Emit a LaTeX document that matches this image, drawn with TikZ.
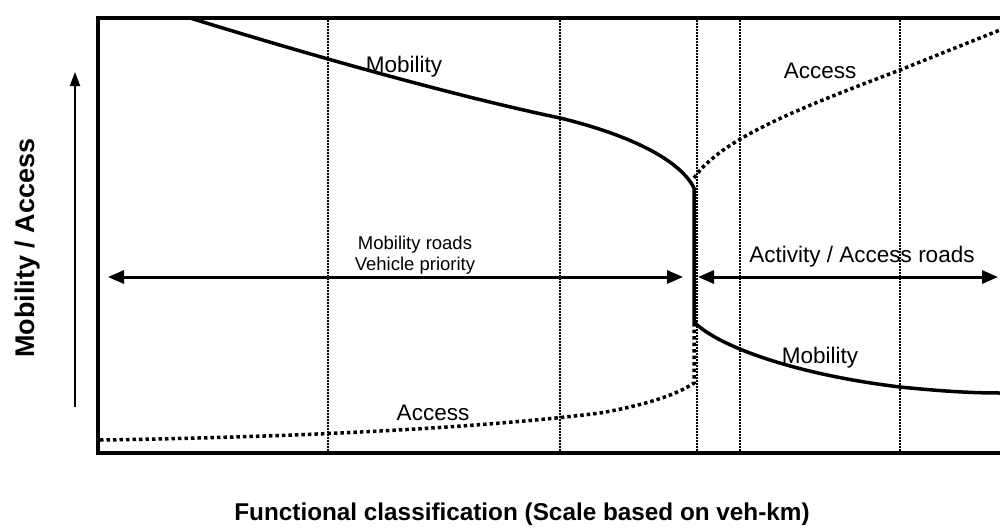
\documentclass[tikz,border=0pt]{standalone}
\usepackage{fontspec}
\setmainfont{Liberation Sans}
\usetikzlibrary{arrows.meta}

\tikzset{
  lbl/.style={font=\fontsize{22.5}{27}\selectfont},
  axislbl/.style={font=\bfseries\fontsize{24.3}{30}\selectfont},
  guide/.style={line width=1.2pt, dash pattern=on 1.5pt off 1.5pt},
  solidcurve/.style={line width=3.5pt, line join=round},
  dotcurve/.style={line width=3.5pt, dash pattern=on 3.5pt off 3pt},
  roadarrow/.style={line width=3pt, {Triangle[length=16pt,width=13pt]}-{Triangle[length=16pt,width=13pt]}},
}

\begin{document}
\begin{tikzpicture}[x=1pt,y=-1pt]
  \useasboundingbox (0,0) rectangle (1000,530);
  % Class boundaries
  \foreach \x in {328,560,697,740,900}{
    \coordinate (g\x t) at (\x,20);
    \coordinate (g\x b) at (\x,451);
    \draw[guide] (g\x t) -- (g\x b);
  }
  % Frame
  \coordinate (tr) at (1000,18);
  \coordinate (tl) at (98,18);
  \coordinate (bl) at (98,453);
  \coordinate (br) at (1000,453);
  \draw[line width=4pt] (tr) -- (tl) -- (bl) -- (br);
  % Mobility curve
  \coordinate (m0) at (190,18);
  \coordinate (m1) at (560,118);
  \coordinate (m2) at (694,188);
  \coordinate (m3) at (694,322);
  \coordinate (m4) at (900,387);
  \coordinate (m5) at (1000,393);
  \draw[solidcurve] (m0) .. controls (300,52) and (450,95) .. (m1)
    .. controls (630,135) and (680,160) .. (m2) -- (m3)
    .. controls (720,348) and (800,375) .. (m4)
    .. controls (940,391) and (970,393) .. (m5);
  % Access curve
  \coordinate (a0) at (100,440);
  \coordinate (a1) at (600,413);
  \coordinate (a2) at (694,383);
  \coordinate (a3) at (694,178);
  \coordinate (a4) at (900,70);
  \coordinate (a5) at (1000,30);
  \draw[dotcurve] (a0) .. controls (300,437) and (480,428) .. (a1)
    .. controls (640,406) and (675,396) .. (a2) -- (m3);
  \draw[dotcurve] (a3) .. controls (722,138) and (800,108) .. (a4) -- (a5);
  % Road types
  \coordinate (la) at (108,277);
  \coordinate (lb) at (683,277);
  \coordinate (ra) at (698,277);
  \coordinate (rb) at (998,277);
  \draw[roadarrow] (la) -- (lb);
  \draw[roadarrow] (ra) -- (rb);
  % Vertical axis
  \coordinate (ya) at (75,407);
  \coordinate (yb) at (75,72);
  \draw[line width=2pt,-{Triangle[length=14pt,width=10pt]}] (ya) -- (yb);
  % Labels
  \node[lbl,anchor=base] (mobtop) at (404,72) {Mobility};
  \node[lbl,anchor=base] (acctop) at (820,78) {Access};
  \node[lbl,anchor=base] (actroad) at (862,262) {Activity / Access roads};
  \node[lbl,anchor=base] (mobbot) at (820,363) {Mobility};
  \node[lbl,anchor=base] (accbot) at (433,420) {Access};
  \node[font=\fontsize{18.5}{21}\selectfont,align=center] (mobroad) at (415,255) {Mobility roads\\Vehicle priority};
  \node[axislbl,font=\bfseries\fontsize{27}{30}\selectfont,rotate=90,anchor=base] (ylbl) at (34,248) {Mobility / Access};
  \node[axislbl,anchor=base] (xlbl) at (522,520) {Functional classification (Scale based on veh-km)};
\end{tikzpicture}
\end{document}
